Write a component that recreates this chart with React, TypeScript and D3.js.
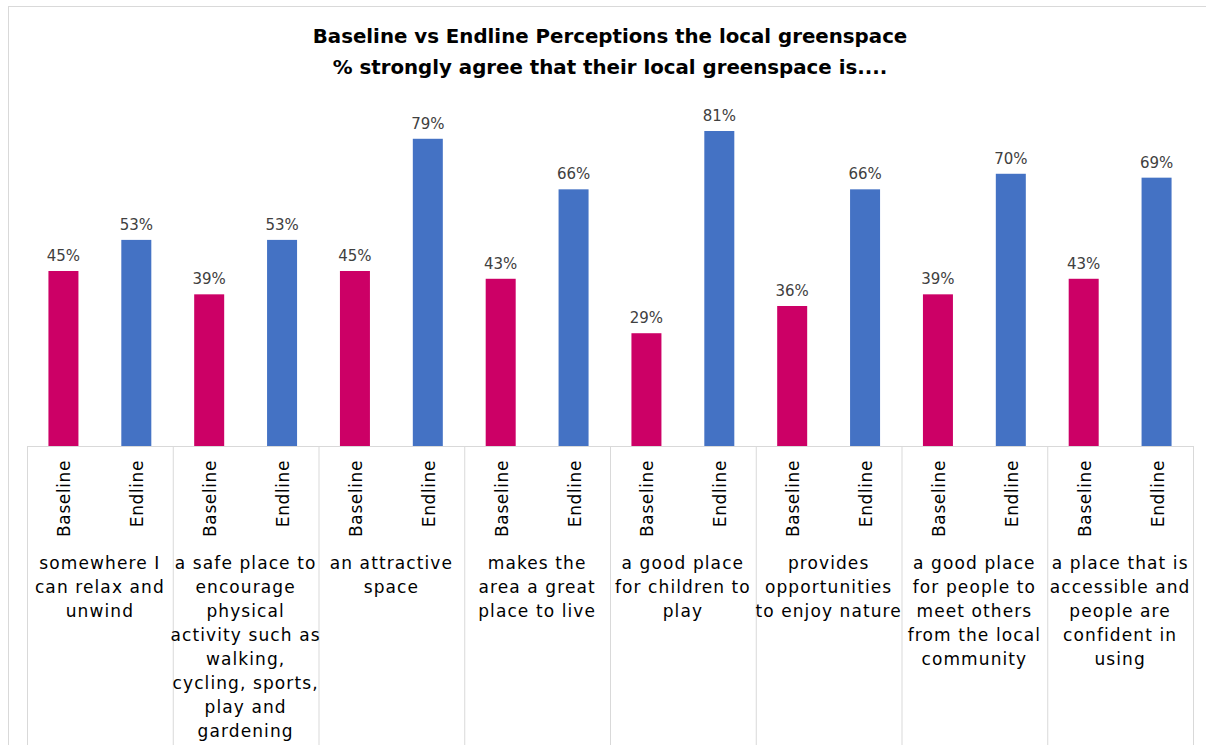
import React from "react";
import * as d3 from "d3";

const groups: string[][] = [
  ["somewhere I", "can relax and", "unwind"],
  ["a safe place to", "encourage", "physical", "activity such as", "walking,", "cycling, sports,", "play and", "gardening"],
  ["an attractive", "space"],
  ["makes the", "area a great", "place to live"],
  ["a good place", "for children to", "play"],
  ["provides", "opportunities", "to enjoy nature"],
  ["a good place", "for people to", "meet others", "from the local", "community"],
  ["a place that is", "accessible and", "people are", "confident in", "using"],
];
const series = ["Baseline", "Endline"];
const baseline = [45, 39, 45, 43, 29, 36, 39, 43];
const endline = [53, 53, 79, 66, 81, 66, 70, 69];
const titleLines = [
  "Baseline vs Endline Perceptions the local greenspace",
  "% strongly agree that their local greenspace is....",
];

const W = 1206;
const H = 745;
const left = 27;
const right = 1193;
const axisY = 446;
const colors = ["#CC0066", "#4472C4"];
const font = "'DejaVu Sans', sans-serif";

export default function App() {
  const x0 = d3.scaleBand<number>().domain(d3.range(groups.length)).range([left, right]).padding(0);
  const x1 = d3.scaleBand<string>().domain(series).range([0, x0.bandwidth()]).padding(0);
  const y = d3.scaleLinear().domain([0, 90]).range([axisY, axisY - 350]);
  const barW = 30;
  const vals = [baseline, endline];

  return (
    <svg width={W} height={H} style={{ position: "absolute", left: 0, top: 0, background: "#fff" }}>
      <line x1={8.5} y1={6} x2={8.5} y2={H} stroke="#D9D9D9" />
      <line x1={8} y1={6.5} x2={W} y2={6.5} stroke="#D9D9D9" />
      {titleLines.map((t, i) => (
        <text key={i} x={610} y={43 + i * 31} textAnchor="middle" fontFamily={font} fontWeight="bold" fontSize={19.8} fill="#000">
          {t}
        </text>
      ))}
      {groups.map((g, gi) =>
        series.map((s, si) => {
          const cx = (x0(gi) as number) + (x1(s) as number) + x1.bandwidth() / 2;
          const v = vals[si][gi];
          return (
            <g key={`${gi}-${si}`}>
              <rect x={cx - barW / 2} y={y(v)} width={barW} height={axisY - y(v)} fill={colors[si]} />
              <text x={cx} y={y(v) - 10} textAnchor="middle" fontFamily={font} fontSize={15} fill="#404040">
                {v}%
              </text>
              <text
                transform={`translate(${cx + 7},460) rotate(-90)`}
                textAnchor="end"
                fontFamily={font}
                fontSize={17}
                letterSpacing={0.6}
                fill="#000"
              >
                {s}
              </text>
            </g>
          );
        })
      )}
      <line x1={left} y1={axisY + 0.5} x2={right} y2={axisY + 0.5} stroke="#D9D9D9" />
      {d3.range(groups.length + 1).map((i) => {
        const xx = i < groups.length ? (x0(i) as number) : right;
        return <line key={i} x1={xx + 0.5} y1={axisY} x2={xx + 0.5} y2={H} stroke="#D9D9D9" />;
      })}
      {groups.map((g, gi) => {
        const cx = (x0(gi) as number) + x0.bandwidth() / 2;
        return (
          <text key={gi} textAnchor="middle" fontFamily={font} fontSize={17} letterSpacing={1.1} fill="#000">
            {g.map((l, li) => (
              <tspan key={li} x={cx} y={569 + li * 24}>
                {l}
              </tspan>
            ))}
          </text>
        );
      })}
    </svg>
  );
}
